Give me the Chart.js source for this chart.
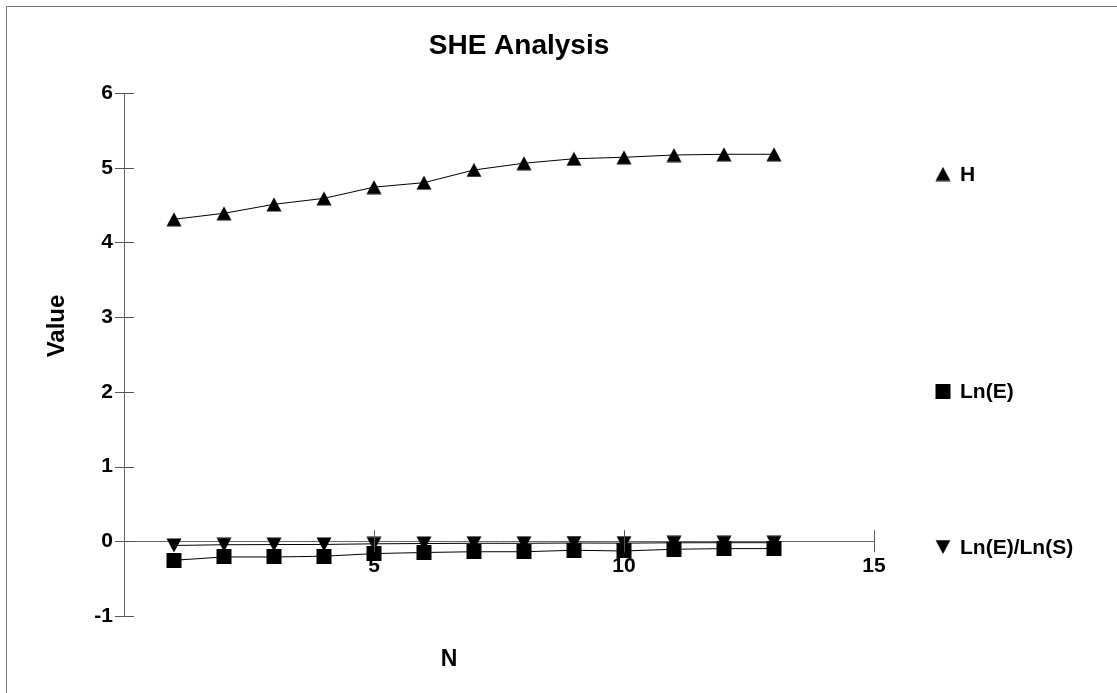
<!DOCTYPE html>
<html lang="en">
<head>
    <meta charset="UTF-8">
    <title>SHE Analysis</title>
    <script src="https://cdn.jsdelivr.net/npm/chart.js"></script>
</head>
<style>
    html, body { margin: 0; padding: 0; background: #fff; }
    #wrap { width: 1117px; height: 693px; }
</style>
<body>
    <div id="wrap"><canvas id="sheChart" width="1117" height="693"></canvas></div>

    <script>
        // values
        const nValues = [1, 2, 3, 4, 5, 6, 7, 8, 9, 10, 11, 12, 13];
        const hValues = [4.31, 4.39, 4.51, 4.59, 4.74, 4.80, 4.97, 5.06, 5.12, 5.14, 5.17, 5.18, 5.18];
        const lnEValues = [-0.254, -0.21, -0.21, -0.20, -0.165, -0.15, -0.14, -0.14, -0.12, -0.13, -0.107, -0.098, -0.098];
        const ratioValues = [-0.056, -0.046, -0.044, -0.042, -0.034, -0.030, -0.027, -0.027, -0.023, -0.025, -0.020, -0.019, -0.019];
        const seriesNames = ['H', 'Ln(E)', 'Ln(E)/Ln(S)'];
        const xTicks = [5, 10, 15];
        const yTicks = [-1, 0, 1, 2, 3, 4, 5, 6];

        const FONT = '"Liberation Sans", Arial, sans-serif';

        // little marker images, centred on their box like in the original
        function makeMarker(kind) {
            const c = document.createElement('canvas');
            c.width = 16; c.height = 15;
            const g = c.getContext('2d');
            g.fillStyle = '#000';
            g.beginPath();
            if (kind === 'up') {
                g.moveTo(8, 0.5); g.lineTo(15.5, 14.5); g.lineTo(0.5, 14.5);
            } else if (kind === 'down') {
                g.moveTo(0.5, 0.5); g.lineTo(15.5, 0.5); g.lineTo(8, 14.5);
            } else {
                g.rect(0.5, 0, 15, 15);
            }
            g.closePath();
            g.fill();
            return c;
        }
        const markers = [makeMarker('up'), makeMarker('square'), makeMarker('down')];

        const toPoints = vals => vals.map((v, i) => ({ x: nValues[i], y: v }));

        const extras = {
            id: 'extras',
            afterDraw(chart) {
                const ctx = chart.ctx;
                const xs = chart.scales.x, ys = chart.scales.y;
                const x0 = xs.getPixelForValue(0);
                const y0 = ys.getPixelForValue(0);
                ctx.save();

                // frame
                ctx.strokeStyle = '#777';
                ctx.lineWidth = 1;
                ctx.beginPath();
                ctx.moveTo(6.5, 693); ctx.lineTo(6.5, 6.5); ctx.lineTo(1117, 6.5);
                ctx.stroke();

                // tick marks crossing the axes
                ctx.strokeStyle = '#555';
                ctx.beginPath();
                yTicks.forEach(v => {
                    const p = Math.round(ys.getPixelForValue(v)) + 0.5;
                    ctx.moveTo(x0 - 9, p); ctx.lineTo(x0 + 10, p);
                });
                xTicks.forEach(v => {
                    const p = Math.round(xs.getPixelForValue(v)) + 0.5;
                    ctx.moveTo(p, y0 - 11); ctx.lineTo(p, y0 + 11);
                });
                ctx.stroke();

                ctx.fillStyle = '#000';
                ctx.textBaseline = 'middle';
                ctx.textAlign = 'center';
                ctx.font = 'bold 28px ' + FONT;
                ctx.fillText('SHE Analysis', 519, 46);

                ctx.font = 'bold 23px ' + FONT;
                ctx.fillText('N', 449, 660);

                ctx.save();
                ctx.translate(57, 326);
                ctx.rotate(-Math.PI / 2);
                ctx.font = 'bold 24px ' + FONT;
                ctx.fillText('Value', 0, 0);
                ctx.restore();

                // legend on the right
                const legendY = [174, 391, 547];
                ctx.textAlign = 'left';
                ctx.font = 'bold 21px ' + FONT;
                seriesNames.forEach((name, i) => {
                    ctx.drawImage(markers[i], 935, legendY[i] - 7.5);
                    ctx.fillText(name, 960, legendY[i] + 1);
                });
                ctx.restore();
            }
        };

        const ds = (label, vals, marker) => ({
            label: label,
            data: toPoints(vals),
            borderColor: '#000',
            borderWidth: 1,
            backgroundColor: '#000',
            pointStyle: marker,
            pointRadius: 8,
            pointHoverRadius: 8,
            tension: 0
        });

        new Chart(document.getElementById('sheChart'), {
            type: 'line',
            data: {
                datasets: [
                    ds(seriesNames[2], ratioValues, markers[2]),
                    ds(seriesNames[1], lnEValues, markers[1]),
                    ds(seriesNames[0], hValues, markers[0])
                ]
            },
            plugins: [extras],
            options: {
                responsive: false,
                animation: false,
                events: [],
                layout: { padding: { left: 0, right: 243, top: 93, bottom: 77 } },
                plugins: {
                    legend: { display: false },
                    title: { display: false },
                    tooltip: { enabled: false }
                },
                scales: {
                    x: {
                        type: 'linear',
                        min: 0,
                        max: 15,
                        position: { y: 0 },
                        afterBuildTicks: s => { s.ticks = xTicks.map(v => ({ value: v })); },
                        grid: { display: false, drawTicks: false, tickLength: 0 },
                        border: { color: '#666', width: 1 },
                        ticks: {
                            color: '#000',
                            padding: 12,
                            maxRotation: 0,
                            font: { family: FONT, size: 21, weight: 'bold' }
                        }
                    },
                    y: {
                        type: 'linear',
                        min: -1,
                        max: 6,
                        position: 'left',
                        afterFit: s => { s.width = 124; },
                        afterBuildTicks: s => { s.ticks = yTicks.map(v => ({ value: v })); },
                        grid: { display: false, drawTicks: false, tickLength: 0 },
                        border: { color: '#666', width: 1 },
                        ticks: {
                            color: '#000',
                            padding: 11,
                            font: { family: FONT, size: 21, weight: 'bold' }
                        }
                    }
                }
            }
        });
    </script>
</body>
</html>
